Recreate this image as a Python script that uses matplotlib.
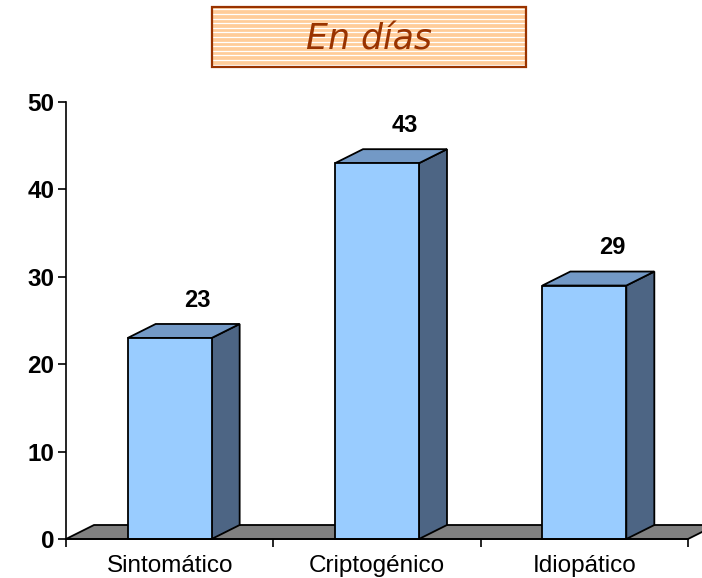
import numpy as np
import matplotlib
matplotlib.use("Agg")
import matplotlib.pyplot as plt
from matplotlib.patches import Polygon, Rectangle

# Data
categories = ["Sintomático", "Criptogénico", "Idiopático"]
values = [23, 43, 29]
yticks = [0, 10, 20, 30, 40, 50]
title_text = "En días"

FRONT = "#99CCFF"
TOP = "#7399C6"
SIDE = "#4D6584"
FLOOR = "#808080"
BROWN = "#993300"

W, H = 702, 578
fig = plt.figure(figsize=(W / 100, H / 100), dpi=100)

# Main plot area (pixel geometry converted to figure fractions)
ax_l, ax_r, ax_b, ax_t = 66, 688, 539, 102
ax = fig.add_axes([ax_l / W, (H - ax_b) / H, (ax_r - ax_l) / W, (ax_b - ax_t) / H])
n = len(categories)
ax.set_xlim(0, n)
ax.set_ylim(0, 50)

# depth of the 3-D effect, in data units
px_per_x = (ax_r - ax_l) / n
px_per_y = (ax_b - ax_t) / 50
dx = 28 / px_per_x
dy = 14 / px_per_y
lw = 1.3

# floor
floor = Polygon([(0, 0), (n, 0), (n + dx, dy), (dx, dy)], closed=True,
                facecolor=FLOOR, edgecolor="black", lw=lw, clip_on=False, zorder=1)
ax.add_patch(floor)

bw = 0.405
for i, v in enumerate(values):
    c = i + 0.5
    x0, x1 = c - bw / 2, c + bw / 2
    side = Polygon([(x1, 0), (x1 + dx, dy), (x1 + dx, v + dy), (x1, v)], closed=True,
                   facecolor=SIDE, edgecolor="black", lw=lw, clip_on=False, zorder=3)
    top = Polygon([(x0, v), (x1, v), (x1 + dx, v + dy), (x0 + dx, v + dy)], closed=True,
                  facecolor=TOP, edgecolor="black", lw=lw, clip_on=False, zorder=3)
    front = Rectangle((x0, 0), bw, v, facecolor=FRONT, edgecolor="black", lw=lw,
                      clip_on=False, zorder=4)
    for p in (side, top, front):
        ax.add_patch(p)
    ax.annotate(f"{v}", xy=(c + dx, v + dy), xytext=(0, 12.5), textcoords="offset points",
                ha="center", va="baseline", fontsize=17, fontweight="bold",
                family="Liberation Sans", color="black", zorder=5)

# axes styling
for s in ("top", "right"):
    ax.spines[s].set_visible(False)
for s in ("left", "bottom"):
    ax.spines[s].set_linewidth(1.2)
    ax.spines[s].set_zorder(6)

ax.set_yticks(yticks)
ax.set_yticklabels([str(t) for t in yticks], fontsize=17.5, fontweight="bold",
                   family="Liberation Sans")
ax.tick_params(axis="y", direction="out", length=5.5, width=1.2, pad=3)

ax.set_xticks(np.arange(n + 1))
ax.set_xticklabels([])
ax.set_xticks(np.arange(n) + 0.5, minor=True)
ax.set_xticklabels(categories, minor=True, fontsize=17.5, family="Liberation Sans")
ax.tick_params(axis="x", which="major", direction="out", length=6, width=1.2)
ax.tick_params(axis="x", which="minor", length=0, pad=11.5)

# striped title banner
bx0, bx1, by0, by1 = 212, 526, 7, 67
tax = fig.add_axes([bx0 / W, (H - by1) / H, (bx1 - bx0) / W, (by1 - by0) / H])
tax.set_xlim(0, bx1 - bx0)
tax.set_ylim(0, by1 - by0)
tax.axis("off")
tax.add_patch(Rectangle((0, 0), bx1 - bx0, by1 - by0, facecolor="#FFCC99",
                        edgecolor="none", zorder=1))
for yy in np.arange(2.5, by1 - by0, 4.6):
    tax.axhline(yy, color="white", lw=0.9, zorder=2)
tax.add_patch(Rectangle((0, 0), bx1 - bx0, by1 - by0, facecolor="none",
                        edgecolor=BROWN, lw=1.6, zorder=3, clip_on=False))
tax.text(0.5, 0.3, title_text, transform=tax.transAxes, ha="center", va="baseline",
         fontsize=25, style="italic", family="DejaVu Sans", color=BROWN, zorder=4)

fig.savefig("out.png", dpi=100)
